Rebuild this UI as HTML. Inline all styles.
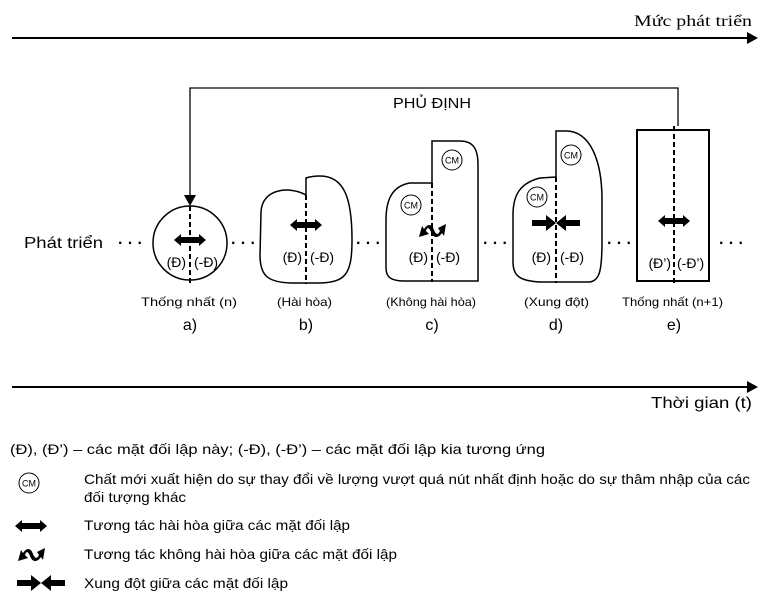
<!DOCTYPE html>
<html><head><meta charset="utf-8"><style>
body{margin:0;background:#fff;}
svg{display:block;font-family:"Liberation Sans","DejaVu Sans",sans-serif;}
</style></head><body>
<svg width="778" height="601" viewBox="0 0 778 601" xmlns="http://www.w3.org/2000/svg">
<defs>
<g id="dbl"><path d="M-16,0 L-9,-6 L-9,-3 L9,-3 L9,-6 L16,0 L9,6 L9,3 L-9,3 L-9,6 Z" fill="#000"/></g>
<g id="conf"><path d="M-24,-3 L-10,-3 L-10,-8 L0,0 L-10,8 L-10,3 L-24,3 Z M24,-3 L10,-3 L10,-8 L0,0 L10,8 L10,3 L24,3 Z" fill="#000"/></g>
<g id="wave"><path d="M-13,7 L-10,-4 L-8,-1 C-4,-7 0,-6 2,0 C4,5 6,5 8,1 L6,-2 L14,-6 L12,6 L10,3 C6,9 1,8 -1,2 C-3,-3 -5,-3 -6,1 L-3,4 Z" fill="#000"/></g>
<g id="cm"><circle r="10" fill="#fff" stroke="#000" stroke-width="1"/><text x="0" y="3.5" font-size="9" text-anchor="middle">CM</text></g>
</defs>
<line x1="12" y1="38" x2="748" y2="38" stroke="#000" stroke-width="2"/>
<path d="M747,32 L758,38 L747,44 Z" fill="#000"/>
<text x="634" y="26" font-size="16" textLength="118" lengthAdjust="spacingAndGlyphs" font-family="Liberation Serif,serif">Mức phát triển</text>
<polyline points="678,126 678,88 190,88 190,196" fill="none" stroke="#000" stroke-width="1.3"/>
<path d="M184,195 L196,195 L190,206 Z" fill="#000"/>
<text x="393" y="108" font-size="15" textLength="78" lengthAdjust="spacingAndGlyphs">PHỦ ĐỊNH</text>
<text x="24" y="248" font-size="16" textLength="79" lengthAdjust="spacingAndGlyphs">Phát triển</text>
<g font-size="16" font-weight="bold">
<text x="118" y="248">· · ·</text><text x="231" y="248">· · ·</text><text x="356" y="248">· · ·</text><text x="483" y="248">· · ·</text><text x="607" y="248">· · ·</text><text x="719" y="248">· · ·</text>
</g>
<circle cx="190" cy="243" r="37" fill="none" stroke="#000" stroke-width="1.5"/>
<line x1="190" y1="206" x2="190" y2="284" stroke="#000" stroke-width="2" stroke-dasharray="5,3"/>
<use href="#dbl" x="190" y="240"/>
<text x="186" y="267" font-size="14" text-anchor="end">(Đ)</text>
<text x="194" y="267" font-size="14">(-Đ)</text>
<path d="M306,195 C290,186 262,188 261,212 L260,255 C260,276 268,282 290,283 L306,283 L320,283 C345,282 352,275 352,240 C352,200 345,176 320,176 C312,176 306,178 306,178 Z" fill="none" stroke="#000" stroke-width="1.5"/>
<line x1="306" y1="195" x2="306" y2="284" stroke="#000" stroke-width="2" stroke-dasharray="5,3"/>
<use href="#dbl" x="306" y="225"/>
<text x="302" y="262" font-size="14" text-anchor="end">(Đ)</text>
<text x="310" y="262" font-size="14">(-Đ)</text>
<path d="M432,183 L410,183 C392,186 386,200 386,220 L386,268 C386,278 392,281 405,281 L478,281 L478,165 C478,150 474,141 460,141 L432,141 Z" fill="none" stroke="#000" stroke-width="1.5"/>
<line x1="432" y1="183" x2="432" y2="282" stroke="#000" stroke-width="2" stroke-dasharray="5,3"/>
<use href="#cm" x="411" y="205"/>
<use href="#cm" x="452" y="160"/>
<use href="#wave" x="432" y="230"/>
<text x="428" y="262" font-size="14" text-anchor="end">(Đ)</text>
<text x="436" y="262" font-size="14">(-Đ)</text>
<path d="M556,177 L540,178 C520,183 513,195 513,215 L513,262 C513,276 520,281 540,282 L556,282 L590,282 C600,280 602,270 602,240 L602,200 C602,160 590,131 566,131 L556,131 Z" fill="none" stroke="#000" stroke-width="1.5"/>
<line x1="556" y1="177" x2="556" y2="283" stroke="#000" stroke-width="2" stroke-dasharray="5,3"/>
<use href="#cm" x="537" y="197"/>
<use href="#cm" x="571" y="155"/>
<use href="#conf" x="556" y="223"/>
<text x="551" y="262" font-size="14" text-anchor="end">(Đ)</text>
<text x="560" y="262" font-size="14">(-Đ)</text>
<rect x="637" y="130" width="72" height="151" fill="none" stroke="#000" stroke-width="2"/>
<line x1="674" y1="126" x2="674" y2="284" stroke="#000" stroke-width="2" stroke-dasharray="5,3"/>
<use href="#dbl" x="674" y="221"/>
<text x="671" y="268" font-size="14" text-anchor="end">(Đ’)</text>
<text x="677" y="268" font-size="14">(-Đ’)</text>
<g font-size="12" lengthAdjust="spacingAndGlyphs">
<text x="141" y="306" textLength="96" lengthAdjust="spacingAndGlyphs">Thống nhất (n)</text>
<text x="277" y="306" textLength="55" lengthAdjust="spacingAndGlyphs">(Hài hòa)</text>
<text x="386" y="306" textLength="90" lengthAdjust="spacingAndGlyphs">(Không hài hòa)</text>
<text x="524" y="306" textLength="65" lengthAdjust="spacingAndGlyphs">(Xung đột)</text>
<text x="622" y="306" textLength="101" lengthAdjust="spacingAndGlyphs">Thống nhất (n+1)</text>
</g>
<g font-size="16" text-anchor="middle">
<text x="190" y="330">a)</text><text x="306" y="330">b)</text><text x="432" y="330">c)</text><text x="556" y="330">d)</text><text x="674" y="330">e)</text>
</g>
<line x1="12" y1="387" x2="748" y2="387" stroke="#000" stroke-width="2"/>
<path d="M747,381 L758,387 L747,393 Z" fill="#000"/>
<text x="651" y="408" font-size="16" textLength="101" lengthAdjust="spacingAndGlyphs">Thời gian (t)</text>
<g font-size="14">
<text x="10" y="454" textLength="535" lengthAdjust="spacingAndGlyphs">(Đ), (Đ’) – các mặt đối lập này; (-Đ), (-Đ’) – các mặt đối lập kia tương ứng</text>
<use href="#cm" x="29" y="483"/>
<text x="84" y="484" textLength="666" lengthAdjust="spacingAndGlyphs">Chất mới xuất hiện do sự thay đổi về lượng vượt quá nút nhất định hoặc do sự thâm nhập của các</text>
<text x="84" y="502" textLength="102" lengthAdjust="spacingAndGlyphs">đối tượng khác</text>
<use href="#dbl" x="31" y="526"/>
<text x="84" y="530" textLength="266" lengthAdjust="spacingAndGlyphs">Tương tác hài hòa giữa các mặt đối lập</text>
<use href="#wave" x="31" y="554"/>
<text x="84" y="559" textLength="313" lengthAdjust="spacingAndGlyphs">Tương tác không hài hòa giữa các mặt đối lập</text>
<use href="#conf" x="41" y="583"/>
<text x="84" y="588" textLength="204" lengthAdjust="spacingAndGlyphs">Xung đột giữa các mặt đối lập</text>
</g>
</svg>
</body></html>
